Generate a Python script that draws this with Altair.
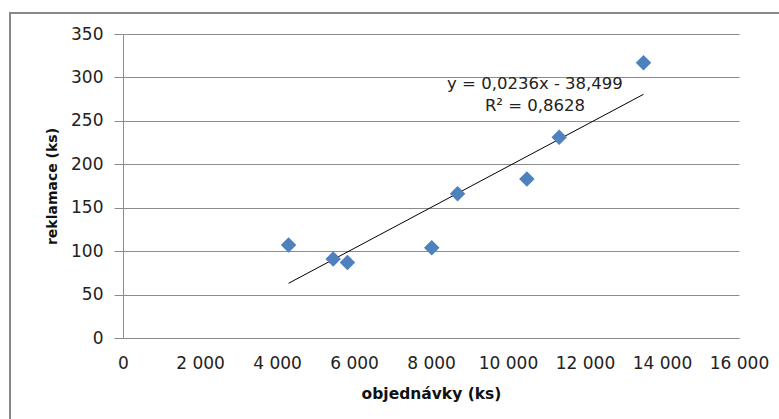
import altair as alt
import pandas as pd

# data
objednavky = [4300, 5460, 5830, 8020, 8690, 10490, 11330, 13520]
reklamace = [107, 91, 87, 104, 166, 183, 231, 317]

slope = 0.0236
intercept = -38.499
eq_lines = ["y = 0,0236x - 38,499", "R² = 0,8628"]
eq_x = [10700, 10700]
eq_y = [293, 267]

x_ticks = [0, 2000, 4000, 6000, 8000, 10000, 12000, 14000, 16000]
y_ticks = [0, 50, 100, 150, 200, 250, 300, 350]

pts = pd.DataFrame({"x": objednavky, "y": reklamace})
xmin, xmax = min(objednavky), max(objednavky)
trend = pd.DataFrame({"x": [xmin, xmax],
                      "y": [slope * xmin + intercept, slope * xmax + intercept]})
eq = pd.DataFrame({"t": eq_lines, "x": eq_x, "y": eq_y})

FONT = "DejaVu Sans"
GRID = "#8c8c8c"

xscale = alt.Scale(domain=[0, 16000], nice=False, zero=False)
yscale = alt.Scale(domain=[0, 350], nice=False)

xaxis = alt.Axis(
    title="objednávky (ks)", values=x_ticks, grid=False, ticks=False,
    labelExpr="replace(format(datum.value, ',d'), ',', ' ')",
    labelFont=FONT, labelFontSize=17, labelColor="#222", labelPadding=17,
    titleFont=FONT, titleFontSize=15.5, titleFontWeight="bold", titleColor="#111",
    titleY=55, titleBaseline="middle",
    domainColor=GRID, domainWidth=1, labelFlush=False, labelOverlap=False,
)
yaxis = alt.Axis(
    title="reklamace (ks)", values=y_ticks, grid=True, gridColor=GRID, gridWidth=1,
    ticks=True, tickSize=9, tickColor=GRID, tickWidth=1,
    labelFont=FONT, labelFontSize=17, labelColor="#222", labelPadding=11,
    titleFont=FONT, titleFontSize=14, titleFontWeight="bold", titleColor="#111",
    titleX=-71, titleY=152, titleBaseline="middle", titleAngle=-90,
    domainColor=GRID, domainWidth=1, labelFlush=False, labelOverlap=False,
)

base = alt.Chart(pts)

points = base.mark_point(shape="diamond", filled=True, size=240, opacity=1,
                         color="#4F81BD").encode(
    x=alt.X("x:Q", scale=xscale, axis=xaxis),
    y=alt.Y("y:Q", scale=yscale, axis=yaxis),
)

line = alt.Chart(trend).mark_line(color="#000000", strokeWidth=1).encode(
    x=alt.X("x:Q", scale=xscale),
    y=alt.Y("y:Q", scale=yscale),
)

text = alt.Chart(eq).mark_text(font=FONT, fontSize=16.5, color="#222",
                               align="center", baseline="middle").encode(
    x=alt.X("x:Q", scale=xscale),
    y=alt.Y("y:Q", scale=yscale),
    text="t:N",
)

border = alt.Chart(pd.DataFrame({"a": [0]})).mark_rect(
    fill=None, stroke="#888888", strokeWidth=2).encode(
    x=alt.value(-113), x2=alt.value(700), y=alt.value(-21), y2=alt.value(500)
)

chart = alt.layer(border, line, points, text).properties(
    width=616, height=304,
    autosize=alt.AutoSizeParams(type="none"),
    padding={"left": 123, "top": 34, "right": 40, "bottom": 81},
    background="white",
).configure_view(stroke=None)

chart.save("out.html", embed_options={"renderer": "svg", "actions": False})
